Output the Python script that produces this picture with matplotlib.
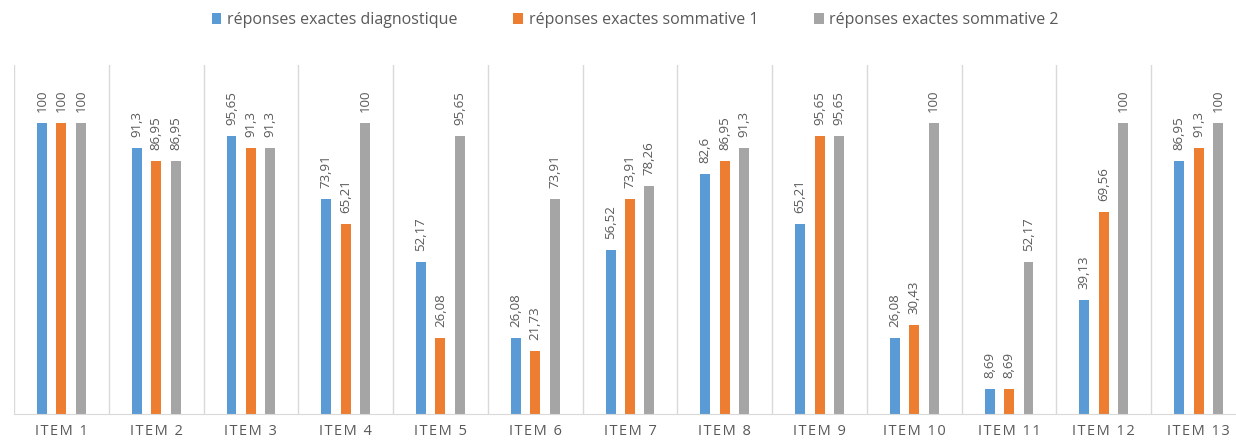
import matplotlib
matplotlib.use('Agg')
import matplotlib.pyplot as plt
import numpy as np

items = ['ITEM 1', 'ITEM 2', 'ITEM 3', 'ITEM 4', 'ITEM 5', 'ITEM 6', 'ITEM 7',
         'ITEM 8', 'ITEM 9', 'ITEM 10', 'ITEM 11', 'ITEM 12', 'ITEM 13']
diagnostique = [100, 91.3, 95.65, 73.91, 52.17, 26.08, 56.52, 82.6, 65.21, 26.08, 8.69, 39.13, 86.95]
sommative1 = [100, 86.95, 91.3, 65.21, 26.08, 21.73, 73.91, 86.95, 95.65, 30.43, 8.69, 69.56, 91.3]
sommative2 = [100, 86.95, 91.3, 100, 95.65, 73.91, 78.26, 91.3, 95.65, 100, 52.17, 100, 100]

series = [
    ('réponses exactes diagnostique', diagnostique, '#5B9BD5'),
    ('réponses exactes sommative 1', sommative1, '#ED7D31'),
    ('réponses exactes sommative 2', sommative2, '#A5A5A5'),
]

plt.rcParams['font.family'] = ['Open Sans', 'DejaVu Sans']

fig = plt.figure(figsize=(12.36, 4.41), dpi=100)
W, H = 1236, 441
# plot area: left 14px, baseline 414px, top 65px; right edge runs past the image
ax = fig.add_axes([14 / W, (H - 414) / H, 1232 / W, (414 - 65) / H])

x = np.arange(len(items))
bw = 0.105
step = 0.205
for i, (name, vals, col) in enumerate(series):
    pos = x + (i - 1) * step
    bars = ax.bar(pos, vals, width=bw, color=col, label=name)
    for b, v in zip(bars, vals):
        ax.annotate(f"{v:g}".replace('.', ','),
                    (b.get_x() + b.get_width() / 2, b.get_height()),
                    xytext=(0, 8), textcoords='offset points',
                    rotation=90, ha='center', va='bottom',
                    fontsize=9.5, color='#595959')

ax.set_xlim(-0.5, len(items) - 0.5)
ax.set_ylim(0, 120)
ax.set_yticks([])
ax.set_xticks(x)
# letter-spaced category labels like the original
spaced = ['\u200a'.join(lbl) for lbl in items]
ax.set_xticklabels(spaced, fontsize=10.5, color='#595959')
ax.tick_params(axis='x', length=0, pad=7)

# separators between categories
for s in np.arange(-0.5, len(items), 1.0):
    ax.axvline(s, color='#D9D9D9', lw=1, zorder=0)

for sp in ['top', 'right', 'left']:
    ax.spines[sp].set_visible(False)
ax.spines['bottom'].set_color('#D9D9D9')

fig.legend(loc='upper center', bbox_to_anchor=(0.514, 1.005), ncol=3,
           frameon=False, fontsize=11.5, handlelength=0.6, handleheight=0.6,
           handletextpad=0.35, columnspacing=3.5, labelcolor='#595959')

fig.savefig('out.png', dpi=100)
